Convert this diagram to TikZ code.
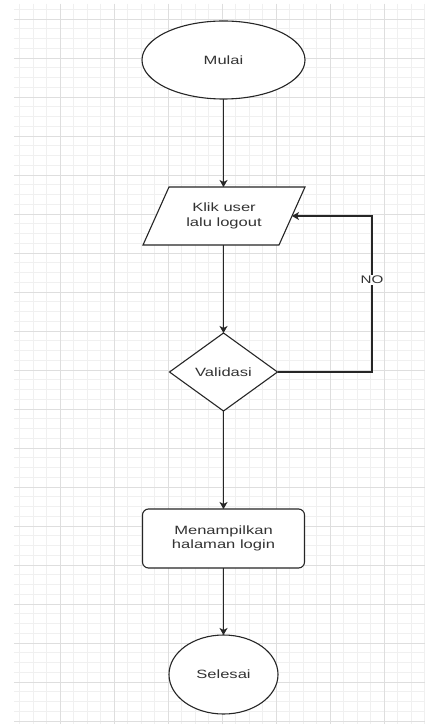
\documentclass[tikz,border=0pt]{standalone}
\usepackage{fontspec}
\setmainfont{Liberation Sans}
\usetikzlibrary{shapes.geometric,arrows.meta}
% labels are drawn a little wider than their natural width
\newcommand{\sx}[1]{\scalebox{1.38}[1]{#1}}
\newcommand{\twoline}[2]{\sx{\begin{tabular}{@{}c@{}}#1\\#2\end{tabular}}}
\begin{document}
\begin{tikzpicture}[x=1pt,y=-1pt,
  minorgrid/.style={draw=black!6, line width=0.6pt},
  majorgrid/.style={draw=black!13, line width=0.8pt},
  box/.style={draw=black!85, line width=1.1pt, fill=white, text=black!80,
    font=\fontsize{12}{14.4}\selectfont, inner sep=0pt, outer sep=0pt},
  outline/.style={draw=black!85, line width=1.1pt, fill=white, line join=miter},
  flow/.style={draw=black!85, line width=1.1pt,
    -{Stealth[length=7pt,width=8pt,inset=2pt]}},
  lbl/.style={fill=white, text=black!80, font=\fontsize{11}{13}\selectfont,
    inner sep=1pt}
]
\useasboundingbox (0,0) rectangle (425,727);
\fill[white] (0,0) rectangle (425,727);

% background grid
\begin{scope}
  \clip (14,4) rectangle (425,723.5);
  \foreach \i in {0,...,31} \draw[minorgrid] (6+13.5*\i,4) -- ++(0,720);
  \foreach \i in {-1,...,73} \draw[minorgrid] (14,19+9.75*\i) -- ++(411,0);
  \foreach \i in {0,...,7} \draw[majorgrid] (6+54*\i,4) -- ++(0,720);
  \foreach \i in {-1,...,18} \draw[majorgrid] (14,19+39*\i) -- ++(411,0);
\end{scope}

% flowchart nodes
\node[box, ellipse, minimum width=163pt, minimum height=78pt]
  (start) at (223.5,60) {\sx{Mulai}};

% input step: parallelogram leaning right, built around its mid-line box
\node[box, draw=none, fill=none, minimum width=136pt, minimum height=58pt]
  (input) at (224,216) {};
\draw[outline] ([xshift=13pt]input.north west) -- ([xshift=13pt]input.north east)
  -- ([xshift=-13pt]input.south east) -- ([xshift=-13pt]input.south west) -- cycle;
\node[box, draw=none, fill=none] (inputtext) at (input.center)
  {\twoline{Klik user}{lalu logout}};

\node[box, diamond, aspect=1.385, minimum width=108pt, minimum height=78pt]
  (check) at (223.5,372) {\sx{Validasi}};
\node[box, rectangle, rounded corners=6pt, minimum width=162pt, minimum height=59pt]
  (show) at (223.5,538.5) {\twoline{Menampilkan}{halaman login}};
\node[box, ellipse, minimum width=109pt, minimum height=79pt]
  (end) at (223.5,674.5) {\sx{Selesai}};

% connectors
\coordinate (turn) at (372,372);
\draw[flow] (start.south) -- (start.south |- input.north);
\draw[flow] (start.south |- input.south) -- (check.north);
\draw[flow] (check.south) -- (show.north);
\draw[flow] (show.south) -- (end.north);
\draw[flow] (check.east) -- (turn) |- node[lbl, pos=0.295] (no) {\sx{NO}} (input.east);
\end{tikzpicture}
\end{document}
